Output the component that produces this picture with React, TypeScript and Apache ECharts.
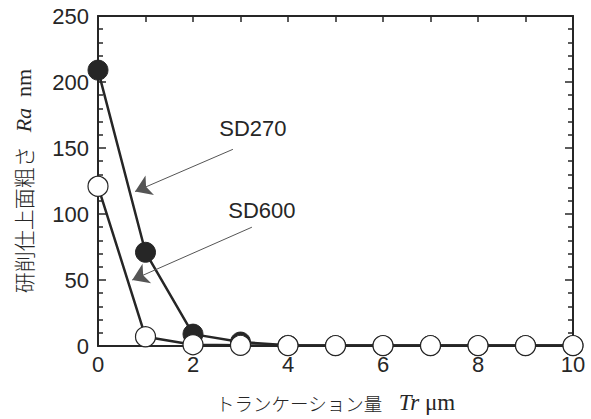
import React, { useEffect, useRef } from "react";
import * as echarts from "echarts";

const xValues = [0, 1, 2, 3, 4, 5, 6, 7, 8, 9, 10];
const sd270 = [209, 71, 9, 3, 0.5, 0.3, 0.3, 0.3, 0.3, 0.3, 0.3];
const sd600 = [121, 7, 1, 0.5, 0.3, 0.3, 0.3, 0.3, 0.3, 0.3, 0.3];
const labelNames = ["SD270", "SD600"];
// arrow annotations in data coordinates: [start, end]
const arrow270 = [[2.84, 149], [0.78, 117]];
const arrow600 = [[3.24, 90], [0.72, 50]];
const label270Pos = [3.26, 165];
const label600Pos = [3.45, 103];

const ink = "#262626";

export default function App() {
  const ref = useRef<HTMLDivElement>(null);
  useEffect(() => {
    if (!ref.current) return;
    const chart = echarts.init(ref.current, null, { renderer: "svg" });
    const pair = (xs: number[], ys: number[]) => xs.map((x, i) => [x, ys[i]]);
    const axisCommon = {
      axisLine: { show: true, onZero: false, lineStyle: { color: ink, width: 2 } },
      splitLine: { show: false },
    };
    chart.setOption({
      animation: false,
      backgroundColor: "#fff",
      grid: { left: 98, right: 18, top: 16, bottom: 72 },
      xAxis: [
        {
          type: "value",
          min: 0,
          max: 10,
          interval: 2,
          ...axisCommon,
          axisTick: { show: true, inside: true, length: 6, lineStyle: { color: ink, width: 1.5 } },
          minorTick: { show: true, splitNumber: 2, length: 6, lineStyle: { color: ink, width: 1.5 } },
          axisLabel: { color: ink, fontSize: 22, fontFamily: "Liberation Sans", margin: 7 },
          name: "{a|トランケーション量    }{b|Tr}{c| μm}",
          nameLocation: "middle",
          nameGap: 45,
          nameTextStyle: {
            rich: {
              a: { fontFamily: "Noto Sans CJK JP", fontSize: 18.5, color: ink, fontWeight: 300 },
              b: { fontFamily: "Liberation Serif", fontStyle: "italic", fontSize: 23, color: ink },
              c: { fontFamily: "Liberation Serif", fontSize: 23, color: ink },
            },
          },
        },
        {
          type: "value",
          position: "top",
          min: 0,
          max: 10,
          interval: 1,
          ...axisCommon,
          axisTick: { show: true, inside: true, length: 6, lineStyle: { color: ink, width: 1.5 } },
          axisLabel: { show: false },
        },
      ],
      yAxis: [
        {
          type: "value",
          min: 0,
          max: 250,
          interval: 50,
          ...axisCommon,
          axisTick: { show: true, inside: true, length: 8, lineStyle: { color: ink, width: 1.5 } },
          minorTick: { show: true, splitNumber: 5, length: 5, lineStyle: { color: ink, width: 1.5 } },
          axisLabel: { color: ink, fontSize: 22, fontFamily: "Liberation Sans", margin: 9 },
          name: "{a|研削仕上面粗さ   }{b|Ra}{c|  nm}",
          nameLocation: "middle",
          nameGap: 64,
          nameTextStyle: {
            rich: {
              a: { fontFamily: "Noto Sans CJK JP", fontSize: 21, color: ink, fontWeight: 300 },
              b: { fontFamily: "Liberation Serif", fontStyle: "italic", fontSize: 22, color: ink },
              c: { fontFamily: "Liberation Serif", fontSize: 22, color: ink },
            },
          },
        },
        {
          type: "value",
          position: "right",
          min: 0,
          max: 250,
          interval: 50,
          ...axisCommon,
          axisTick: { show: true, inside: true, length: 8, lineStyle: { color: ink, width: 1.5 } },
          minorTick: { show: true, splitNumber: 5, length: 5, lineStyle: { color: ink, width: 1.5 } },
          axisLabel: { show: false },
        },
      ],
      series: [
        {
          name: labelNames[0],
          type: "line",
          data: pair(xValues, sd270),
          symbol: "circle",
          symbolSize: 20,
          lineStyle: { color: ink, width: 2.5 },
          itemStyle: { color: ink, borderColor: ink, borderWidth: 1 },
          z: 3,
          markLine: {
            silent: true,
            symbol: ["none", "arrow"],
            symbolSize: [12, 16],
            lineStyle: { color: "#555", width: 1, type: "solid" },
            label: { show: false },
            data: [
              [
                { coord: arrow270[0] },
                { coord: arrow270[1], symbolSize: 16 },
              ],
              [
                { coord: arrow600[0] },
                { coord: arrow600[1], symbolSize: 16 },
              ],
            ],
          },
          markPoint: {
            symbol: "rect",
            symbolSize: 1,
            itemStyle: { color: "transparent" },
            label: {
              show: true,
              color: ink,
              fontSize: 22,
              fontFamily: "Liberation Sans",
              formatter: (p: any) => p.name,
            },
            data: [
              { name: labelNames[0], coord: label270Pos },
              { name: labelNames[1], coord: label600Pos },
            ],
          },
        },
        {
          name: labelNames[1],
          type: "line",
          data: pair(xValues, sd600),
          symbol: "circle",
          symbolSize: 20,
          lineStyle: { color: ink, width: 2.5 },
          itemStyle: { color: "#fff", borderColor: ink, borderWidth: 1.2 },
          z: 4,
        },
      ],
    });
    return () => chart.dispose();
  }, []);
  return <div ref={ref} style={{ width: 591, height: 419, position: "absolute", left: 0, top: 0 }} />;
}
